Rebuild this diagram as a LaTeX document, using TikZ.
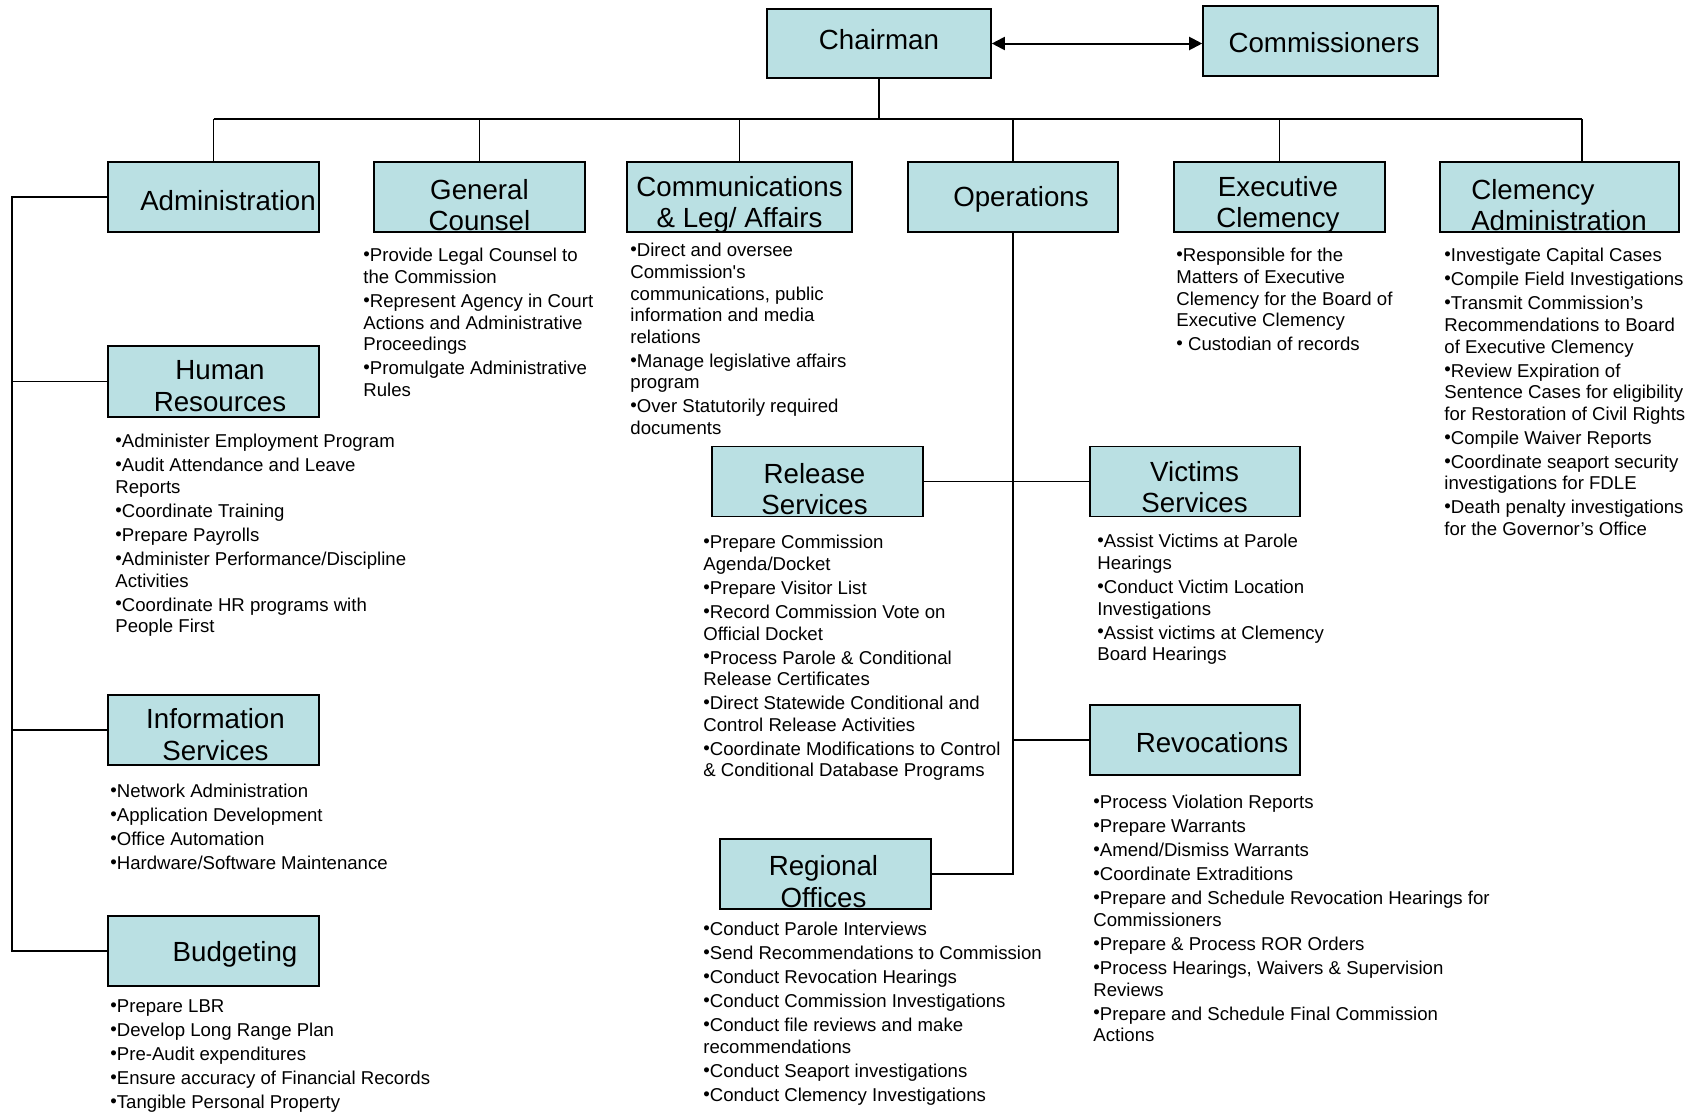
\documentclass[tikz,border=0pt]{standalone}
\usepackage{fontspec}
\setmainfont{Liberation Sans}
\usetikzlibrary{arrows.meta}
\definecolor{boxfill}{RGB}{186,224,227}
\newcommand\bu{\raisebox{0.6pt}{•}}
\begin{document}
\begin{tikzpicture}[x=0.5pt,y=-0.5pt,
  box/.style={draw=black, fill=boxfill, line width=0.8pt, minimum width=#1, minimum height=35pt, inner sep=0pt},
  box/.default=105.5pt,
  lab/.style={font=\fontsize{13.85}{15.8}\selectfont, align=center, inner sep=0pt},
  lst/.style={font=\fontsize{9.3}{10.8}\selectfont, align=left, anchor=north west, inner sep=0pt},
  conn/.style={line width=0.7pt},
  bus/.style={line width=1pt}]
\useasboundingbox (0,0) rectangle (1695,1114);

% ---------- boxes ----------
\node[box=112pt, minimum height=34.5pt] (chair) at (879,43.5) {};
\node[box=117.5pt] (comm) at (1320.5,41) {};
\node[box] (admin) at (213.5,197) {};
\node[box] (gc) at (479.5,197) {};
\node[box=112.5pt] (comms) at (739.5,197) {};
\node[box=105pt] (ops) at (1013,197) {};
\node[box] (exec) at (1279.5,197) {};
\node[box=119.5pt] (clem) at (1559.5,197) {};
\node[box, minimum height=35.5pt] (hr) at (213.5,381.5) {};
\node[box] (info) at (213.5,730) {};
\node[box] (budg) at (213.5,951) {};
\node[box] (rel) at (817.5,481.5) {};
\node[box=105pt] (vict) at (1195,481.5) {};
\node[box=105pt] (revo) at (1195,740) {};
\node[box] (reg) at (825.5,874) {};

% ---------- box labels ----------
\node[lab] (chair-t) at (879,40) {Chairman};
\node[lab] (comm-t) at (1324,43) {Commissioners};
\node[lab] (admin-t) at (228,201) {Administration};
\node[lab] (gc-t) at (479.5,205) {General\\Counsel};
\node[lab] (comms-t) at (739.5,205) {Communications\\\& Leg/ Affairs};
\node[lab] (ops-t) at (1021,199) {Operations};
\node[lab] (exec-t) at (1278,205) {Executive\\Clemency};
\node[lab, align=left] (clem-t) at (1559,205) {Clemency\\Administration};
\node[lab] (hr-t) at (220,386) {Human\\Resources};
\node[lab] (info-t) at (215.5,734.5) {Information\\Services};
\node[lab] (budg-t) at (235,954) {Budgeting};
\node[lab] (rel-t) at (814.5,489) {Release\\Services};
\node[lab] (vict-t) at (1194.5,487) {Victims\\Services};
\node[lab] (revo-t) at (1212,743) {Revocations};
\node[lab] (reg-t) at (823.5,881.5) {Regional\\Offices};

% ---------- connectors ----------
\draw[bus, {Triangle[length=6.5pt,width=6.5pt]}-{Triangle[length=6.5pt,width=6.5pt]}] (chair.east) -- (chair.east -| comm.west);
\coordinate (busL) at (213,119);
\coordinate (busR) at (1582,119);
\draw[line width=1.2pt] (chair.south) -- (chair.south |- busL);
\draw[bus] (admin.north |- busL) -- (busR);
\foreach \n in {admin,gc,comms,ops,exec}
  \draw[conn] (\n.north |- busL) -- (\n.north);
\draw[conn] (busR) -- (busR |- clem.north);

\coordinate (lb) at (12,197);
\draw[bus] (admin.west) -- (admin.west -| lb) -- (budg.west -| lb) -- (budg.west);
\draw[conn] (hr.west -| lb) -- (hr.west);
\draw[conn] (info.west -| lb) -- (info.west);

\draw[bus] (ops.south) -- (ops.south |- reg.east) -- (reg.east);
\draw[conn] (rel.east) -- (vict.west);
\draw[conn] (ops.south |- revo.west) -- (revo.west);

% ---------- bullet lists ----------
\node[lst] (gc-l) at (363,248) {\bu Provide Legal Counsel to\\the Commission\\[1.2pt]\bu Represent Agency in Court\\Actions and Administrative\\Proceedings\\[1.2pt]\bu Promulgate Administrative\\Rules};
\node[lst] (comms-l) at (630,243) {\bu Direct and oversee\\Commission\textquotesingle s\\communications, public\\information and media\\relations\\[1.2pt]\bu Manage legislative affairs\\program\\[1.2pt]\bu Over Statutorily required\\documents};
\node[lst] (exec-l) at (1176,248) {\bu Responsible for the\\Matters of Executive\\Clemency for the Board of\\Executive Clemency\\[1.2pt]\bu\ Custodian of records};
\node[lst] (clem-l) at (1444,248) {\bu Investigate Capital Cases\\[1.2pt]\bu Compile Field Investigations\\[1.2pt]\bu Transmit Commission’s\\Recommendations to Board\\of Executive Clemency\\[1.2pt]\bu Review Expiration of\\Sentence Cases for eligibility\\for Restoration of Civil Rights\\[1.2pt]\bu Compile Waiver Reports\\[1.2pt]\bu Coordinate seaport security\\investigations for FDLE\\[1.2pt]\bu Death penalty investigations\\for the Governor’s Office};
\node[lst] (hr-l) at (115,434) {\bu Administer Employment Program\\[1.2pt]\bu Audit Attendance and Leave\\Reports\\[1.2pt]\bu Coordinate Training\\[1.2pt]\bu Prepare Payrolls\\[1.2pt]\bu Administer Performance/Discipline\\Activities\\[1.2pt]\bu Coordinate HR programs with\\People First};
\node[lst] (rel-l) at (703,535) {\bu Prepare Commission\\Agenda/Docket\\[1.2pt]\bu Prepare Visitor List\\[1.2pt]\bu Record Commission Vote on\\Official Docket\\[1.2pt]\bu Process Parole \& Conditional\\Release Certificates\\[1.2pt]\bu Direct Statewide Conditional and\\Control Release Activities\\[1.2pt]\bu Coordinate Modifications to Control\\\& Conditional Database Programs};
\node[lst] (vict-l) at (1097,534) {\bu Assist Victims at Parole\\Hearings\\[1.2pt]\bu Conduct Victim Location\\Investigations\\[1.2pt]\bu Assist victims at Clemency\\Board Hearings};
\node[lst] (info-l) at (110,784) {\bu Network Administration\\[1.2pt]\bu Application Development\\[1.2pt]\bu Office Automation\\[1.2pt]\bu Hardware/Software Maintenance};
\node[lst] (revo-l) at (1093,795) {\bu Process Violation Reports\\[1.2pt]\bu Prepare Warrants\\[1.2pt]\bu Amend/Dismiss Warrants\\[1.2pt]\bu Coordinate Extraditions\\[1.2pt]\bu Prepare and Schedule Revocation Hearings for\\Commissioners\\[1.2pt]\bu Prepare \& Process ROR Orders\\[1.2pt]\bu Process Hearings, Waivers \& Supervision\\Reviews\\[1.2pt]\bu Prepare and Schedule Final Commission\\Actions};
\node[lst] (reg-l) at (703,922) {\bu Conduct Parole Interviews\\[1.2pt]\bu Send Recommendations to Commission\\[1.2pt]\bu Conduct Revocation Hearings\\[1.2pt]\bu Conduct Commission Investigations\\[1.2pt]\bu Conduct file reviews and make\\recommendations\\[1.2pt]\bu Conduct Seaport investigations\\[1.2pt]\bu Conduct Clemency Investigations};
\node[lst] (budg-l) at (110,999) {\bu Prepare LBR\\[1.2pt]\bu Develop Long Range Plan\\[1.2pt]\bu Pre-Audit expenditures\\[1.2pt]\bu Ensure accuracy of Financial Records\\[1.2pt]\bu Tangible Personal Property};
\end{tikzpicture}
\end{document}
